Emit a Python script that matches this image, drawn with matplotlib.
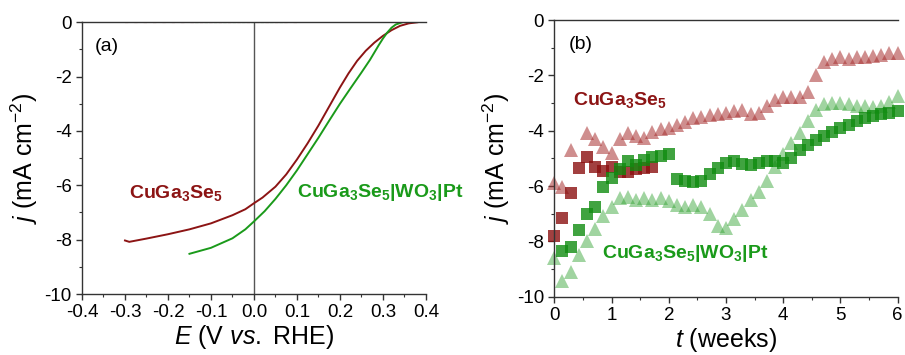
import numpy as np
import matplotlib
matplotlib.use('Agg')
import matplotlib.pyplot as plt
from matplotlib.ticker import MultipleLocator, FormatStrFormatter

plt.rcParams['font.family'] = 'Liberation Sans'
plt.rcParams['mathtext.fontset'] = 'custom'
plt.rcParams['mathtext.rm'] = 'Liberation Sans'
plt.rcParams['mathtext.it'] = 'Liberation Sans:italic'
plt.rcParams['mathtext.bf'] = 'Liberation Sans:bold'
plt.rcParams['axes.unicode_minus'] = False

# (a) j-E curves
E_cgs = [-0.30, -0.29, -0.25, -0.20, -0.15, -0.10, -0.05, -0.02, 0.00, 0.02, 0.05,
         0.075, 0.10, 0.125, 0.15, 0.175, 0.20, 0.22, 0.24, 0.26, 0.28, 0.30, 0.32,
         0.34, 0.36, 0.38]
j_cgs = [-8.03, -8.08, -7.96, -7.80, -7.62, -7.40, -7.10, -6.88, -6.66, -6.45, -6.05,
         -5.60, -5.05, -4.45, -3.80, -3.10, -2.40, -1.88, -1.42, -1.05, -0.75, -0.50,
         -0.29, -0.13, -0.04, 0.00]
E_cgs_pt = [-0.15, -0.10, -0.05, -0.02, 0.00, 0.025, 0.05, 0.075, 0.10, 0.125, 0.15,
            0.175, 0.20, 0.225, 0.25, 0.27, 0.29, 0.30, 0.31, 0.32, 0.33, 0.345]
j_cgs_pt = [-8.52, -8.30, -7.95, -7.62, -7.33, -6.95, -6.50, -6.00, -5.45, -4.85, -4.25,
            -3.62, -3.00, -2.42, -1.85, -1.38, -0.85, -0.60, -0.38, -0.20, -0.08, 0.00]
# dark currents
E_dark_cgs = [-0.30, 0.10]
E_dark_cgs_pt = [-0.15, 0.08]
j_dark = [0, 0]

# (b) stability, one point per day
t_weeks = np.arange(43) / 7
j_cgs_tri = [-5.90, -6.05, -4.70, np.nan, -4.10, -4.30, -4.60, -4.80, -4.30, -4.10,
             -4.20, -4.25, -4.05, -3.95, -3.90, -3.80, -3.70, -3.55, -3.50, -3.45,
             -3.40, -3.37, -3.30, -3.25, -3.40, -3.35, -3.10, -2.90, -2.80, -2.80,
             -2.80, -2.60, -2.00, -1.50, -1.40, -1.35, -1.40, -1.35, -1.35, -1.30,
             -1.25, -1.20, -1.20]
j_cgs_sq = [-7.80, -7.15, -6.25, -5.35, -4.95, -5.30, -5.45, -5.30, -5.50, -5.50,
            -5.40, -5.35, -5.30]
j_pt_tri = [-8.60, -9.45, -9.10, -8.50, -8.00, -7.55, -7.10, -6.75, -6.45, -6.40,
            -6.50, -6.45, -6.50, -6.45, -6.55, -6.70, -6.75, -6.70, -6.75, -7.00,
            -7.45, -7.50, -7.20, -6.85, -6.50, -6.20, -5.80, -5.30, -4.85, -4.45,
            -4.10, -3.65, -3.25, -3.05, -3.00, -3.00, -3.05, -3.10, -3.10, -3.15,
            -3.10, -2.95, -2.75]
j_pt_sq = [-8.35, -8.20, -7.60, -7.00, -6.75, -6.05, -5.70, -5.40, -5.10, -5.25,
           -5.05, -4.95, -4.90, -4.85, -5.75, -5.80, -5.85, -5.80, -5.55, -5.35,
           -5.15, -5.10, -5.20, -5.25, -5.15, -5.10, -5.10, -5.15, -5.00, -4.70,
           -4.50, -4.35, -4.20, -4.05, -3.90, -3.80, -3.65, -3.55, -3.47, -3.40,
           -3.35, -3.30]

red = '#8c1414'
green = '#1a9a1a'
lbl_cgs = r'CuGa$_\mathbf{3}$Se$_\mathbf{5}$'
lbl_pt = r'CuGa$_\mathbf{3}$Se$_\mathbf{5}$|WO$_\mathbf{3}$|Pt'

fig = plt.figure(figsize=(9.05, 3.55), dpi=100)
ax1 = fig.add_axes([0.0906, 0.1718, 0.380, 0.7654])
ax2 = fig.add_axes([0.6125, 0.1642, 0.3794, 0.7794])

# panel (a)
ax1.axvline(0, color='#555555', lw=1)
ax1.plot(E_dark_cgs, j_dark, color=red, lw=1.5, ls=(0, (1.5, 3)))
ax1.plot(E_dark_cgs_pt, j_dark, color=green, lw=1.5, ls=(1.5, (1.5, 3)))
ax1.plot(E_cgs, j_cgs, color=red, lw=1.4)
ax1.plot(E_cgs_pt, j_cgs_pt, color=green, lw=1.4)
ax1.set_xlim(-0.4, 0.4)
ax1.set_ylim(-10, 0)
ax1.xaxis.set_major_locator(MultipleLocator(0.1))
ax1.xaxis.set_minor_locator(MultipleLocator(0.05))
ax1.xaxis.set_major_formatter(FormatStrFormatter('%.1f'))
ax1.set_xlabel(r'$E$ (V $vs.$ RHE)', fontsize=18, labelpad=1)
ax1.set_ylabel(r'$j$ (mA cm$^{-2}$)', fontsize=18, labelpad=3)
ax1.text(-0.37, -0.9, '(a)', fontsize=14, va='center')
ax1.text(-0.29, -6.28, lbl_cgs, color=red, fontsize=14, fontweight='bold', va='center')
ax1.text(0.10, -6.28, lbl_pt, color=green, fontsize=14, fontweight='bold', va='center')

# panel (b)
ax2.plot(t_weeks, j_cgs_tri, '^', color='#a83232', alpha=0.55, ms=10.5, mew=0, clip_on=False)
ax2.plot(t_weeks[:13], j_cgs_sq, 's', color='#8b1010', alpha=0.8, ms=8.5, mew=0, clip_on=False)
ax2.plot(t_weeks, j_pt_tri, '^', color='#2ea02e', alpha=0.45, ms=10.5, mew=0, clip_on=False)
ax2.plot(t_weeks[1:], j_pt_sq, 's', color='#108c10', alpha=0.8, ms=8.5, mew=0, clip_on=False)
ax2.set_xlim(0, 6)
ax2.set_ylim(-10, 0)
ax2.xaxis.set_major_locator(MultipleLocator(1))
ax2.xaxis.set_minor_locator(MultipleLocator(0.5))
ax2.set_xlabel(r'$t$ (weeks)', fontsize=18, labelpad=1)
ax2.set_ylabel(r'$j$ (mA cm$^{-2}$)', fontsize=18, labelpad=3)
ax2.text(0.245, -0.9, '(b)', fontsize=14, va='center')
ax2.text(0.33, -2.89, lbl_cgs, color=red, fontsize=14, fontweight='bold', va='center')
ax2.text(0.83, -8.43, lbl_pt, color=green, fontsize=14, fontweight='bold', va='center')

for ax in (ax1, ax2):
    ax.yaxis.set_major_locator(MultipleLocator(2))
    ax.yaxis.set_minor_locator(MultipleLocator(1))
    ax.spines['right'].set_visible(False)
    for s in ('left', 'bottom', 'top'):
        ax.spines[s].set_color('#333333')
        ax.spines[s].set_linewidth(1)
    ax.tick_params(which='major', direction='out', length=4, width=1, labelsize=13.5,
                   color='#333333', top=False, right=False)
    ax.tick_params(which='minor', direction='out', length=2.5, width=0.8,
                   color='#333333', top=False, right=False)

fig.savefig('out.png', dpi=100)
